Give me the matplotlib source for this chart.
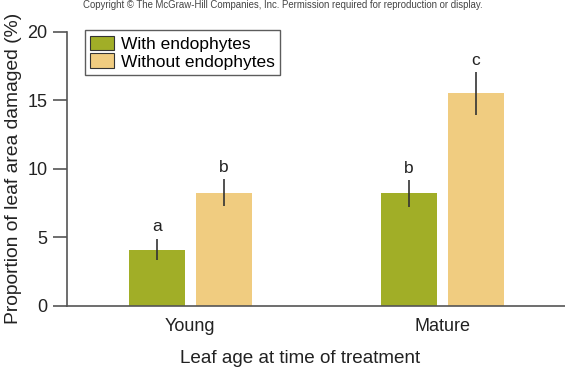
import matplotlib
matplotlib.use("Agg")
import matplotlib.pyplot as plt
import numpy as np

plt.rcParams['font.family'] = ['Liberation Sans', 'DejaVu Sans']

# Donnees
groupes = ["Young", "Mature"]
avec = [4.1, 8.2]
avec_err = [0.8, 1.0]
sans = [8.25, 15.5]
sans_err = [1.0, 1.55]
lettres_avec = ["a", "b"]
lettres_sans = ["b", "c"]

vert = "#a1ae27"
jaune = "#f0cc80"
gris = "#555555"

fig = plt.figure(figsize=(5.65, 3.69), dpi=100)
ax = fig.add_axes([0.1186, 0.1716, 0.8814, 0.7425])

x = np.arange(len(groupes))
largeur = 0.222
dec = 0.1325

ax.bar(x - dec, avec, largeur, color=vert, label="With endophytes")
ax.bar(x + dec, sans, largeur, color=jaune, label="Without endophytes")
ax.errorbar(x - dec, avec, yerr=avec_err, fmt="none", ecolor="#333333",
            elinewidth=1.2, capsize=0)
ax.errorbar(x + dec, sans, yerr=sans_err, fmt="none", ecolor="#333333",
            elinewidth=1.2, capsize=0)

for i in range(len(groupes)):
    ax.text(x[i] - dec, avec[i] + avec_err[i] + 0.3, lettres_avec[i],
            ha="center", va="bottom", fontsize=12.5, color="#222222")
    ax.text(x[i] + dec, sans[i] + sans_err[i] + 0.3, lettres_sans[i],
            ha="center", va="bottom", fontsize=12.5, color="#222222")

ax.set_xlim(-0.489, 1.487)
ax.set_ylim(0, 20)
ax.set_yticks([0, 5, 10, 15, 20])
ax.set_xticks(x)
ax.set_xticklabels(groupes)
ax.tick_params(axis="y", length=10, width=1.2, color=gris, labelsize=13,
               pad=4, labelcolor="#222222")
ax.tick_params(axis="x", length=0, labelsize=13, pad=9, labelcolor="#222222")

ax.spines["top"].set_visible(False)
ax.spines["right"].set_visible(False)
ax.spines["left"].set_color(gris)
ax.spines["bottom"].set_color(gris)
ax.spines["left"].set_linewidth(1.2)
ax.spines["bottom"].set_linewidth(1.2)

ax.set_ylabel("Proportion of leaf area damaged (%)", fontsize=13.9,
              color="#222222", labelpad=4)
fig.text(300 / 565, 5.7 / 369, "Leaf age at time of treatment", fontsize=13.6,
         color="#222222", ha="center", va="baseline")

leg = ax.legend(loc="upper left", bbox_to_anchor=(0.036, 1.005), fontsize=12.5,
                frameon=True, fancybox=False, borderpad=0.3,
                handlelength=1.4, handleheight=0.9, handletextpad=0.4,
                labelspacing=0.1, borderaxespad=0)
leg.get_frame().set_edgecolor("#333333")
leg.get_frame().set_linewidth(1.0)
for h in leg.legend_handles:
    h.set_edgecolor("#333333")
    h.set_linewidth(0.8)

fig.text(283 / 565, 1 - 5 / 369, "Copyright \u00a9 The McGraw-Hill Companies, Inc. Permission required for reproduction or display.",
         ha="center", va="center", fontsize=6.9, color="#444444")

fig.savefig("out.png", dpi=100)
